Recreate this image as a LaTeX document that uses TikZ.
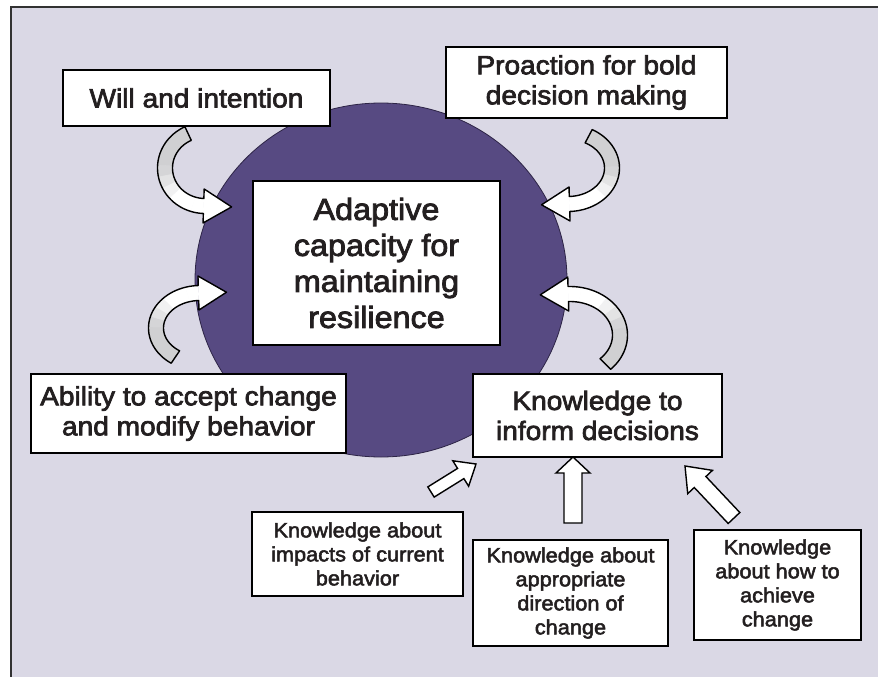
\documentclass[tikz,border=0pt]{standalone}
\usepackage{fontspec}
\usetikzlibrary{calc,shapes.geometric}
\newfontfamily\lab{Liberation Sans}[FakeStretch=1.06]
\newcommand\embold[1]{\special{pdf:literal 2 Tr #1 w}}
\definecolor{bgc}{RGB}{218,216,229}
\definecolor{purp}{RGB}{87,74,130}
\definecolor{purpd}{RGB}{45,36,70}
\definecolor{arrgray}{RGB}{208,208,210}
\definecolor{txt}{RGB}{35,31,32}
\definecolor{frm}{RGB}{50,50,50}

\newcommand\ARbw{7.5}
\newcommand\ARhw{17}
\newcommand\ARhl{28}

% curved block arrow along an elliptic arc: cx, cy, rx, ry, start angle, end angle
\newcommand\CArrow[6]{%
 \pgfmathsetmacro\ARsg{ifthenelse((#6)>(#5),1,-1)}%
 \pgfmathsetmacro\ARdx{-\ARsg*(#3)*sin(#6)}%
 \pgfmathsetmacro\ARdy{\ARsg*(#4)*cos(#6)}%
 \pgfmathsetmacro\ARn{veclen(\ARdx,\ARdy)}%
 \pgfmathsetmacro\ARux{\ARdx/\ARn}%
 \pgfmathsetmacro\ARuy{\ARdy/\ARn}%
 \pgfmathsetmacro\ARox{(#4)*cos(#6)}%
 \pgfmathsetmacro\ARoy{(#3)*sin(#6)}%
 \pgfmathsetmacro\ARon{veclen(\ARox,\ARoy)}%
 \pgfmathsetmacro\ARoxx{\ARox/\ARon}%
 \pgfmathsetmacro\ARoyy{\ARoy/\ARon}%
 \pgfmathsetmacro\ARbx{(#1)+(#3)*cos(#6)}%
 \pgfmathsetmacro\ARby{(#2)+(#4)*sin(#6)}%
 \coordinate (ARtip) at ({\ARbx+\ARhl*\ARux},{\ARby+\ARhl*\ARuy});
 \coordinate (ARbo) at ({\ARbx+\ARhw*\ARoxx},{\ARby+\ARhw*\ARoyy});
 \coordinate (ARbi) at ({\ARbx-\ARhw*\ARoxx},{\ARby-\ARhw*\ARoyy});
 \foreach \k in {0,...,9}{%
   \pgfmathsetmacro\aA{(#5)+((#6)-(#5))*\k/10}%
   \pgfmathsetmacro\aB{(#5)+((#6)-(#5))*(\k+1)/10}%
   \pgfmathtruncatemacro\pct{max(0,min(100,(7-\k)*30))}%
   \filldraw[fill=arrgray!\pct!white, draw=arrgray!\pct!white, line width=0.6pt]
     plot[domain=\aA:\aB, samples=5] ({(#1)+((#3)+\ARbw)*cos(\x)},{(#2)+((#4)+\ARbw)*sin(\x)})
     -- plot[domain=\aB:\aA, samples=5] ({(#1)+((#3)-\ARbw)*cos(\x)},{(#2)+((#4)-\ARbw)*sin(\x)}) -- cycle;
 }
 \fill[white] (ARbo) -- (ARtip) -- (ARbi) -- cycle;
 \draw[arrline] plot[domain=#5:#6, samples=40] ({(#1)+((#3)+\ARbw)*cos(\x)},{(#2)+((#4)+\ARbw)*sin(\x)})
   -- (ARbo) -- (ARtip) -- (ARbi)
   -- plot[domain=#6:#5, samples=40] ({(#1)+((#3)-\ARbw)*cos(\x)},{(#2)+((#4)-\ARbw)*sin(\x)}) -- cycle;
}

% straight block arrow: tail, tip, shaft half width, head half width, head length
\newcommand\BArrow[5]{%
 \coordinate (BAb) at ($(#2)!#5!(#1)$);
 \filldraw[fill=white, arrline, line join=miter]
   ($(#1)!#3!90:(#2)$) -- ($(BAb)!#3!90:(#2)$) -- ($(BAb)!#4!90:(#2)$) -- (#2)
   -- ($(BAb)!#4!-90:(#2)$) -- ($(BAb)!#3!-90:(#2)$) -- ($(#1)!#3!-90:(#2)$) -- cycle;
}

\begin{document}
\begin{tikzpicture}[x=1pt,y=-1pt,
  arrline/.style={draw=black, line width=1.4pt, line join=round},
  box/.style={draw=black, line width=1.7pt, fill=white, inner sep=0pt, align=center, text=txt},
  big/.style={font=\lab\fontsize{30.5}{36}\selectfont\embold{0.8}},
  mid/.style={font=\lab\fontsize{26.5}{30}\selectfont\embold{0.7}},
  sml/.style={font=\lab\fontsize{20.5}{24}\selectfont\embold{0.5}}]
\useasboundingbox (0,0) rectangle (878,677);
\fill[white] (0,0) rectangle (878,677);
\fill[bgc] (11,7) rectangle (878,677);
\draw[frm, line width=1.6pt] (11,677) -- (11,7) -- (878,7);

\node[ellipse, fill=purp, draw=purpd, line width=0.8pt, inner sep=0pt,
      minimum width=372pt, minimum height=354pt] (circ) at (381,280) {};

% curved arrows
\CArrow{205}{168}{40}{38}{245}{92}
\CArrow{568}{168}{44}{36}{-62}{88}
\CArrow{200}{328}{44}{35}{124}{268}
\CArrow{570}{335}{50}{41}{45}{-92}

% straight arrows
\coordinate (eT) at (431,492); \coordinate (eP) at (476,464);
\coordinate (fT) at (573,523); \coordinate (fP) at (573,457);
\coordinate (gT) at (734,518); \coordinate (gP) at (685,466);
\BArrow{eT}{eP}{6pt}{15pt}{18pt}
\BArrow{fT}{fP}{9pt}{17pt}{16pt}
\BArrow{gT}{gP}{8pt}{17pt}{22pt}

\node[box, mid, minimum width=267pt, minimum height=56pt] (will) at (196.5,98) {Will and intention};
\node[box, mid, minimum width=281pt, minimum height=71pt] (pro) at (586.5,82.5) {Proaction for bold\\decision making};
\node[box, big, minimum width=247pt, minimum height=164pt] (core) at (376.5,263) {Adaptive\\capacity for\\maintaining\\resilience};
\node[box, mid, minimum width=315pt, minimum height=79pt] (abil) at (188.5,413.5) {Ability to accept change\\and modify behavior};
\node[box, mid, minimum width=249pt, minimum height=83pt] (inf) at (597.5,415.5) {Knowledge to\\inform decisions};
\node[box, sml, minimum width=211pt, minimum height=84pt] (imp) at (357.5,554) {Knowledge about\\impacts of current\\behavior};
\node[box, sml, minimum width=195pt, minimum height=106pt] (dir) at (570.5,593) {Knowledge about\\appropriate\\direction of\\change};
\node[box, sml, minimum width=167pt, minimum height=110pt] (how) at (777.5,585) {Knowledge\\about how to\\achieve\\change};
\end{tikzpicture}
\end{document}
